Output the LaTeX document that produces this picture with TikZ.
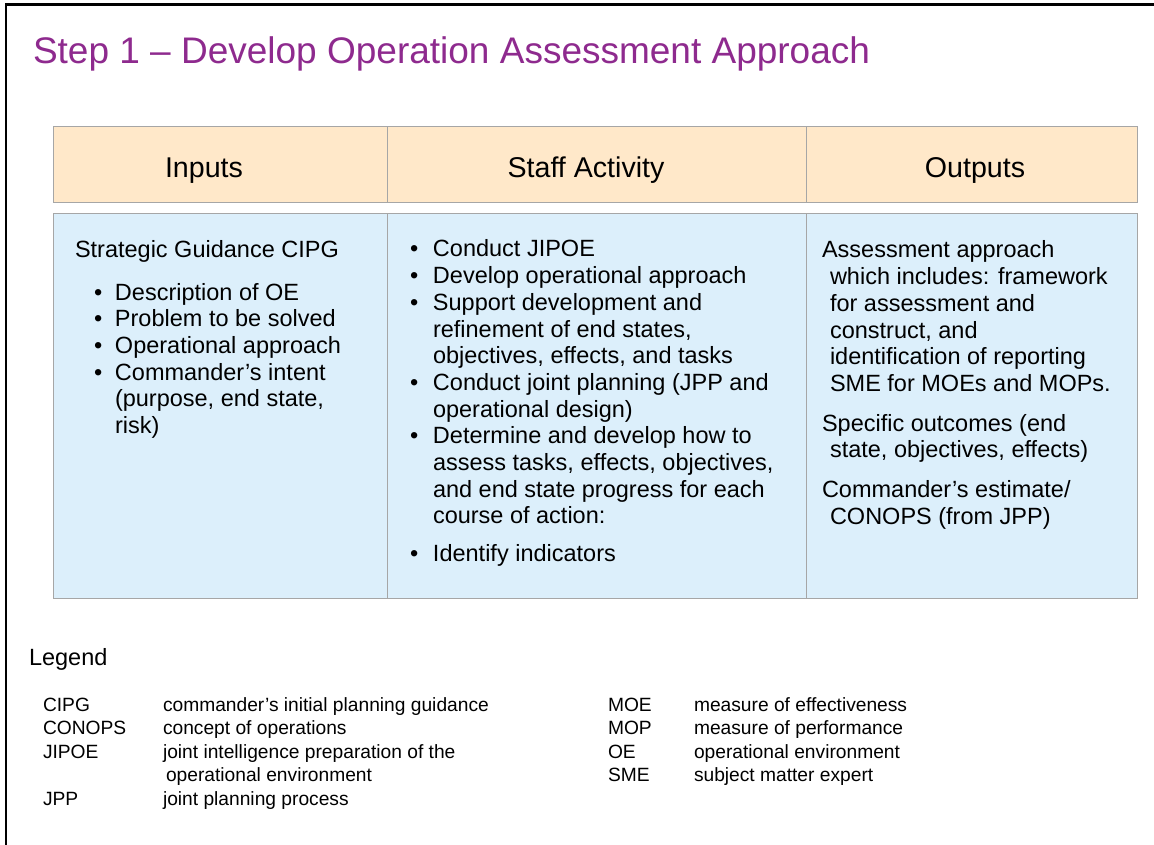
\documentclass[tikz,border=0pt]{standalone}
\usepackage{fontspec}
\setmainfont{Liberation Sans}
\definecolor{titlepurple}{RGB}{142,42,142}
\definecolor{headfill}{RGB}{255,232,201}
\definecolor{bodyfill}{RGB}{220,239,251}
\definecolor{gridgray}{RGB}{166,166,166}
\newcommand\bodyfnt{\fontsize{23.5}{26.7}\selectfont}
\newcommand\legfnt{\fontsize{19.2}{23.5}\selectfont}
\newcommand\bl[2]{\makebox[#1][l]{\textbullet}#2}
\tikzset{
  txt/.style={inner sep=0pt, outer sep=0pt, anchor=base west},
  headtxt/.style={inner sep=0pt, outer sep=0pt, anchor=base, font=\fontsize{28.6}{34}\selectfont},
  cellhead/.style={fill=headfill, draw=gridgray, line width=1pt},
  cellbody/.style={fill=bodyfill, draw=gridgray, line width=1pt},
  gridline/.style={draw=gridgray, line width=1pt},
  frameline/.style={line width=2.3pt, black}
}
\begin{document}
\begin{tikzpicture}[x=1pt,y=-1pt]
\useasboundingbox (0,0) rectangle (1154,845);
\fill[white] (0,0) rectangle (1154,845);
% frame
\draw[frameline] (6,845) -- (6,4.5) -- (1154,4.5);
% title
\node[txt, text=titlepurple, font=\fontsize{37}{44}\selectfont] (title) at (33,64) {Step 1 – Develop Operation Assessment Approach};
% table
\draw[cellhead] (53,127) rectangle (1137,203);
\draw[gridline] (387,127) -- (387,203) (806,127) -- (806,203);
\draw[cellbody] (53,214) rectangle (1137,598);
\draw[gridline] (387,214) -- (387,598) (806,214) -- (806,598);
% headers
\node[headtxt] (hIn) at (204,178) {Inputs};
\node[headtxt] (hStaff) at (586,178) {Staff Activity};
\node[headtxt] (hOut) at (975,178) {Outputs};
% inputs column
\node[txt] (cInA) at (75,258) {\bodyfnt Strategic Guidance CIPG};
\node[txt] (cIn) at (94,300) {\parbox[t]{290pt}{\bodyfnt
\bl{21pt}{Description of OE}\\
\bl{21pt}{Problem to be solved}\\
\bl{21pt}{Operational approach}\\
\bl{21pt}{Commander’s intent}\\
\hspace*{21pt}(purpose, end state,\\
\hspace*{21pt}risk)}};
% staff activity column
\node[txt] (cStaff) at (410,257) {\parbox[t]{390pt}{\bodyfnt
\bl{23pt}{Conduct JIPOE}\\
\bl{23pt}{Develop operational approach}\\
\bl{23pt}{Support development and}\\
\hspace*{23pt}refinement of end states,\\
\hspace*{23pt}objectives, effects, and tasks\\
\bl{23pt}{Conduct joint planning (JPP and}\\
\hspace*{23pt}operational design)\\
\bl{23pt}{Determine and develop how to}\\
\hspace*{23pt}assess tasks, effects, objectives,\\
\hspace*{23pt}and end state progress for each\\
\hspace*{23pt}course of action:\\[11pt]
\bl{23pt}{Identify indicators}}};
% outputs column
\node[txt] (cOut) at (822,258) {\parbox[t]{320pt}{\bodyfnt
Assessment approach\\
\hspace*{8pt}which includes: framework\\
\hspace*{8pt}for assessment and\\
\hspace*{8pt}construct, and\\
\hspace*{8pt}identification of reporting\\
\hspace*{8pt}SME for MOEs and MOPs.\\[13pt]
Specific outcomes (end\\
\hspace*{8pt}state, objectives, effects)\\[13pt]
Commander’s estimate/\\
\hspace*{8pt}CONOPS (from JPP)}};
% legend
\node[txt] (leg) at (29,665) {\bodyfnt Legend};
\node[txt] (legA1) at (43,711) {\parbox[t]{110pt}{\legfnt CIPG\\CONOPS\\JIPOE\\ \\JPP}};
\node[txt] (legD1) at (163,711) {\parbox[t]{420pt}{\legfnt commander’s initial planning guidance\\concept of operations\\joint intelligence preparation of the\\\hspace*{3pt}operational environment\\joint planning process}};
\node[txt] (legA2) at (608,711) {\parbox[t]{80pt}{\legfnt MOE\\MOP\\OE\\SME}};
\node[txt] (legD2) at (694,711) {\parbox[t]{400pt}{\legfnt measure of effectiveness\\measure of performance\\operational environment\\subject matter expert}};
\end{tikzpicture}
\end{document}
